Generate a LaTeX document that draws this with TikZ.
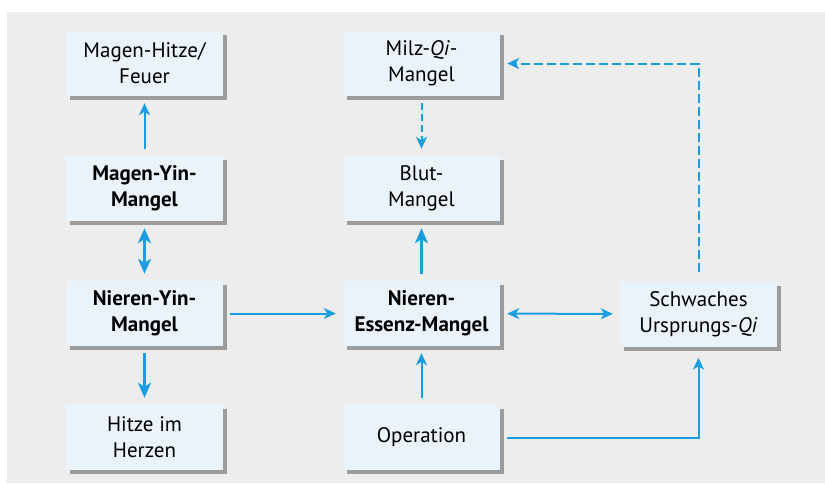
\documentclass[tikz,border=0pt]{standalone}
\usepackage{fontspec}
\setmainfont{PT Sans}
\usetikzlibrary{arrows.meta,shadows}
\definecolor{bggray}{HTML}{EDEDED}
\definecolor{boxfill}{HTML}{EBF3FA}
\definecolor{shadowgray}{HTML}{9C9C9C}
\definecolor{linkblue}{HTML}{1A9EE0}
\begin{document}
\begin{tikzpicture}[x=1pt,y=-1pt,
  box/.style={fill=boxfill, minimum width=157pt, minimum height=65pt,
    inner sep=0pt, align=center, font=\fontsize{21}{26}\selectfont,
    drop shadow={shadow xshift=4pt, shadow yshift=-4pt, fill=shadowgray, opacity=1}},
  link/.style={draw=linkblue, line width=2pt,
    -{Stealth[length=12pt,width=11pt,inset=3.5pt]}, shorten >=7pt, shorten <=7pt},
  thicklink/.style={link, line width=3.2pt, -{Stealth[length=15pt,width=13pt,inset=4pt]}},
  dashlink/.style={link, dash pattern=on 9pt off 4pt}]
  % canvas
  \fill[white] (0,0) rectangle (825,483);
  \fill[bggray] (7,12) rectangle (825,483);
  \useasboundingbox (0,0) rectangle (825,483);

  % left column
  \node[box] (mhf) at (144.5,63.5) {Magen-Hitze/\\Feuer};
  \node[box] (myin) at (144.5,188.5) {\textbf{Magen-Yin-}\\\textbf{Mangel}};
  \node[box] (nyin) at (144.5,313.5) {\textbf{Nieren-Yin-}\\\textbf{Mangel}};
  \node[box] (hih) at (144.5,437.5) {Hitze im\\Herzen};

  % middle column
  \node[box] (milz) at (421.5,63.5) {Milz-\textit{Qi}-\\Mangel};
  \node[box] (blut) at (421.5,188.5) {Blut-\\Mangel};
  \node[box] (ness) at (421.5,313.5) {\textbf{Nieren-}\\\textbf{Essenz-Mangel}};
  \node[box] (op) at (421.5,437.5) {Operation};

  % right column
  \node[box] (sch) at (698.5,314) {Schwaches\\Ursprungs-\textit{Qi}};

  % connectors
  \draw[link] (myin) -- (mhf);
  \draw[thicklink, {Stealth[length=15pt,width=13pt,inset=4pt]}-{Stealth[length=15pt,width=13pt,inset=4pt]}] (myin) -- (nyin);
  \draw[thicklink] (nyin) -- (hih);
  \draw[link] (nyin) -- (ness);
  \draw[link, dash pattern=on 7pt off 4pt] (milz) -- (blut);
  \draw[thicklink] (ness) -- (blut);
  \draw[link] (op) -- (ness);
  \draw[link, {Stealth[length=12pt,width=11pt,inset=3.5pt]}-{Stealth[length=12pt,width=11pt,inset=3.5pt]}] (ness) -- (sch);
  \draw[link, shorten >=11pt] (op.east) -| (sch.south);
  \draw[dashlink, shorten <=9pt] (sch.north) |- (milz.east);
\end{tikzpicture}
\end{document}
